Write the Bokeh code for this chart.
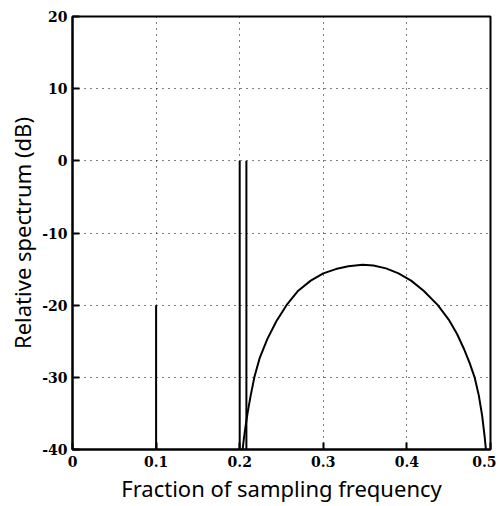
from bokeh.plotting import figure
from bokeh.models import FixedTicker, Range1d
from bokeh.embed import file_html
from bokeh.resources import INLINE

# Data
line_freqs = [0.1, 0.2, 0.208]
line_levels = [-20, 0, 0]
floor_level = -40

curve_x = [0.2035, 0.205, 0.207, 0.2095, 0.213, 0.2175, 0.224, 0.233, 0.244,
           0.256, 0.270, 0.285, 0.300, 0.315, 0.330, 0.347, 0.360, 0.375,
           0.390, 0.405, 0.420, 0.437, 0.450, 0.460, 0.468, 0.475, 0.481,
           0.486, 0.490, 0.493, 0.4945]
curve_y = [-40, -38.5, -36.8, -34.9, -32.6, -30.0, -27.3, -24.7, -22.2,
           -20.0, -18.0, -16.6, -15.6, -15.0, -14.6, -14.4, -14.5, -14.9,
           -15.6, -16.6, -18.0, -20.0, -22.0, -24.0, -26.0, -28.0, -30.0,
           -32.5, -35.3, -38.2, -40]

x_ticks = [0, 0.1, 0.2, 0.3, 0.4, 0.5]
x_tick_labels = ["0", "0.1", "0.2", "0.3", "0.4", "0.5"]
y_ticks = [-40, -30, -20, -10, 0, 10, 20]
y_tick_labels = ["-40", "-30", "-20", "-10", "0", "10", "20"]

p = figure(frame_width=418, frame_height=433, output_backend="svg",
           toolbar_location=None, x_range=Range1d(0, 0.5), y_range=Range1d(-40, 20),
           min_border_left=72, min_border_top=16, min_border_right=6, min_border_bottom=40)
p.background_fill_color = "white"
p.border_fill_color = "white"
p.outline_line_color = "black"
p.outline_line_width = 2

for f, lv in zip(line_freqs, line_levels):
    p.segment(x0=f, y0=floor_level, x1=f, y1=lv, line_color="black", line_width=2)

p.line(curve_x, curve_y, line_color="black", line_width=2, line_join="round")

p.xaxis.ticker = FixedTicker(ticks=x_ticks)
p.yaxis.ticker = FixedTicker(ticks=y_ticks)
p.xaxis.major_label_overrides = {t: l for t, l in zip(x_ticks, x_tick_labels)}
p.yaxis.major_label_overrides = {t: l for t, l in zip(y_ticks, y_tick_labels)}

for ax in (p.xaxis[0], p.yaxis[0]):
    ax.axis_line_color = "black"
    ax.axis_line_width = 2
    ax.major_tick_in = 7
    ax.major_tick_out = 0
    ax.major_tick_line_width = 2
    ax.minor_tick_line_color = None
    ax.major_label_text_font = "DejaVu Serif"
    ax.major_label_text_font_style = "bold"
    ax.major_label_text_font_size = "14px"
    ax.major_label_text_color = "black"
    ax.axis_label_text_font = "Noto Sans"
    ax.axis_label_text_font_style = "normal"
    ax.axis_label_text_font_size = "22px"
    ax.axis_label_text_color = "black"

p.xaxis.axis_label = "Fraction of sampling frequency"
p.yaxis.axis_label = "Relative spectrum (dB)"
p.xaxis.major_label_standoff = 6
p.yaxis.major_label_standoff = 5
p.xaxis.axis_label_standoff = 3
p.yaxis.axis_label_standoff = 2

p.grid.grid_line_color = "black"
p.grid.grid_line_dash = "1 5"
p.grid.grid_line_width = 1

open("out.html", "w").write(file_html(p, INLINE))
